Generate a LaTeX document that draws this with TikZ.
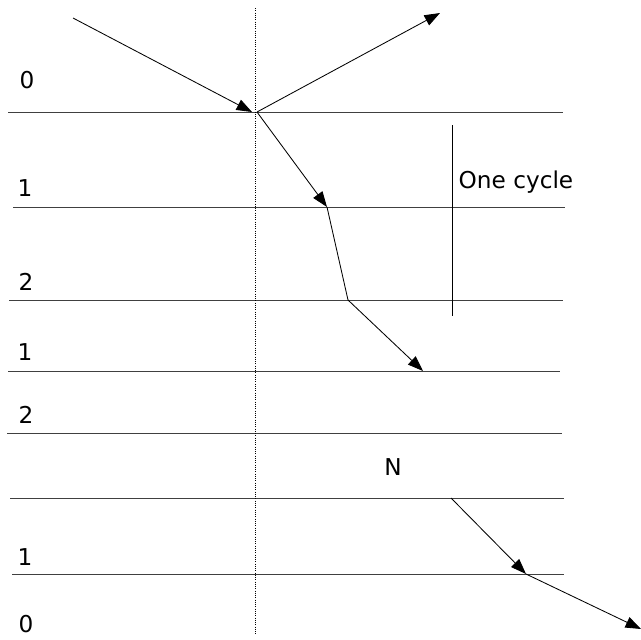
\documentclass[tikz,border=0pt]{standalone}
\usepackage{fontspec}
\setmainfont{DejaVu Sans}
\usetikzlibrary{arrows.meta,positioning,calc}
\tikzset{
  layerline/.style={draw=black!75, line width=0.7pt},
  raypath/.style={draw=black, line width=0.6pt},
  raytip/.style={-{Triangle[length=11pt,width=8pt]}},
  layerlabel/.style={font=\fontsize{16.5}{19}\selectfont, inner sep=1pt},
}
\begin{document}
\begin{tikzpicture}[x=0.025cm, y=-0.025cm]
  \useasboundingbox (0,0) rectangle (641,640);
  % layer boundaries
  \foreach \n/\xa/\y/\xb in {a/8/112/563, b/13/207/565, c/9/300/563, d/8/371/560,
                             e/7/433/562, f/10/498/564, g/12/574/564}{
    \coordinate (l\n w) at (\xa,\y);
    \coordinate (l\n e) at (\xb,\y);
    \draw[layerline] (l\n w) -- (l\n e);
  }
  % normal
  \coordinate (ntop) at (255,8);
  \coordinate (nbot) at (255,634);
  \draw[densely dotted, line width=0.6pt] (ntop) -- (nbot);
  % labels
  \foreach \x/\y/\lab/\name in {27/80/0/ta, 25/188/1/tb, 26/282/2/tc, 25/352/1/td,
                                26/415/2/te, 25/557/1/tf, 26/624/0/tg}{
    \node[layerlabel] (\name) at (\x,\y) {\lab};
  }
  \node[layerlabel] (nlab) at (393,467) {N};
  \node[layerlabel, anchor=west] (cyc) at (457,182) {One cycle};
  \coordinate (cyctop) at (452,125);
  \coordinate (cycbot) at (452,316);
  \draw[line width=0.6pt] (cyctop) -- (cycbot);
  % ray points
  \coordinate (src) at (73,18);
  \coordinate (hit) at (252,112);
  \coordinate (p0) at (257,112);
  \coordinate (refl) at (440,13);
  \coordinate (p1) at (327,207);
  \coordinate (p2) at (348,300);
  \coordinate (p3) at (423,371);
  \coordinate (p4) at (451,498);
  \coordinate (p5) at (526,574);
  \coordinate (out) at (641,629);
  \draw[raypath, raytip] (src) -- (hit);
  \draw[raypath, raytip] (p0) -- (refl);
  \draw[raypath, raytip] (p0) -- (p1);
  \draw[raypath] (p1) -- (p2);
  \draw[raypath, raytip] (p2) -- (p3);
  \draw[raypath, raytip] (p4) -- (p5);
  \draw[raypath, raytip] (p5) -- (out);
\end{tikzpicture}
\end{document}
